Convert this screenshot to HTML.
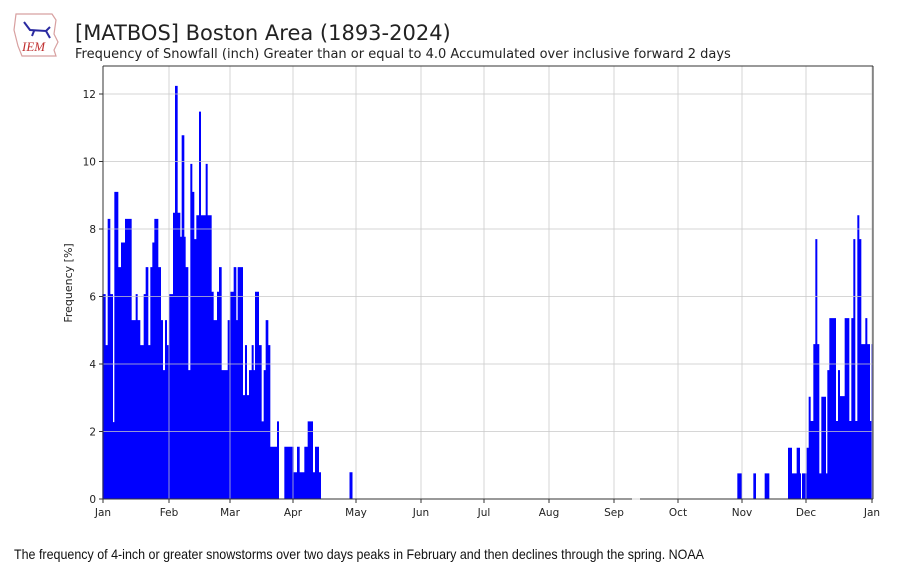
<!DOCTYPE html>
<html><head><meta charset="utf-8"><style>
html,body{margin:0;padding:0;background:#fff;}
svg{display:block;}
</style></head><body>
<svg id="s" width="907" height="576" viewBox="0 0 907 576" xmlns="http://www.w3.org/2000/svg" font-family="'DejaVu Sans','Liberation Sans',sans-serif">
<rect width="907" height="576" fill="#fff"/>
<g>
<path d="M16 14 L52 14 L56 20 L54 34 L58 42 L54 50 L56 56 L22 56 L18 46 L14 30 Z" fill="#fff" stroke="#d8a0a0" stroke-width="1.2"/>
<path d="M24 22 L30 30 L46 31 L50 27 M34 31 L32 36 M46 31 L50 38" stroke="#2a2aa0" stroke-width="2" fill="none"/>
<text x="22" y="51" font-family="'Liberation Serif',serif" font-style="italic" font-size="13" fill="#c03030">IEM</text>
</g>
<text x="75" y="40" font-size="21" fill="#222">[MATBOS] Boston Area (1893-2024)</text>
<text x="75" y="58" font-size="13" fill="#222">Frequency of Snowfall (inch) Greater than or equal to 4.0  Accumulated over inclusive forward 2 days</text>
<path id="bars" fill="#0000ff" stroke="none"/>
<g id="grid" stroke="#c8c8c8" stroke-opacity="0.75" stroke-width="1"></g>
<g id="axes"></g>
<text transform="translate(72,283) rotate(-90)" text-anchor="middle" font-size="11" fill="#222">Frequency [%]</text>
<text x="14" y="559" font-family="'Liberation Sans Narrow','Liberation Sans',sans-serif" font-size="14" fill="#111" textLength="690" lengthAdjust="spacingAndGlyphs">The frequency of 4-inch or greater snowstorms over two days peaks in February and then declines through the spring. NOAA</text>
</svg>
<script>
var NS="http://www.w3.org/2000/svg";
var L=103,R=873,T=66,B=499,U=33.75;
function el(t,a,p){var e=document.createElementNS(NS,t);for(var k in a)e.setAttribute(k,a[k]);p.appendChild(e);return e;}
var g=document.getElementById('grid'),ax=document.getElementById('axes');
var months=[["Jan",103],["Feb",169],["Mar",230],["Apr",293],["May",356],["Jun",421],["Jul",484],["Aug",549],["Sep",614],["Oct",678],["Nov",742],["Dec",806],["Jan",872]];
months.forEach(function(m){el('line',{x1:m[1],x2:m[1],y1:T,y2:B},g);
el('line',{x1:m[1],x2:m[1],y1:B,y2:B+4,stroke:'#333'},ax);
var t=el('text',{x:m[1],y:B+17,'text-anchor':'middle','font-size':'10.5',fill:'#222'},ax);t.textContent=m[0];});
for(var v=0;v<=12;v+=2){var y=B-v*U;el('line',{x1:L,x2:R,y1:y,y2:y},g);
el('line',{x1:L-4,x2:L,y1:y,y2:y,stroke:'#333'},ax);
var t=el('text',{x:L-7,y:y+4,'text-anchor':'end','font-size':'10.5',fill:'#222'},ax);t.textContent=v;}
el('line',{x1:L,x2:L,y1:T,y2:B,stroke:'#333'},ax);
el('line',{x1:R,x2:R,y1:T,y2:B,stroke:'#333'},ax);
el('line',{x1:L,x2:R,y1:T,y2:T,stroke:'#333'},ax);
el('line',{x1:L,x2:632,y1:B,y2:B,stroke:'#333'},ax);
el('line',{x1:640,x2:R,y1:B,y2:B,stroke:'#333'},ax);
var d1=[[22,32,6.07],[32,38,4.56],[38,46,8.3],[46,54,6.07],[54,58,2.28],[58,70,9.1],[70,78,6.87],[78,90,7.6],[90,110,8.3],[110,122,5.3],[122,128,6.07],[128,136,5.3],[136,146,4.56],[146,152,6.07],[152,160,6.87],[160,166,4.56],[166,172,6.87],[172,178,7.6],[178,190,8.3],[190,198,6.87],[198,204,5.3],[204,210,3.82],[210,216,5.3],[216,222,4.56],[222,234,6.07],[234,240,8.48],[240,248,12.24],[248,256,8.48],[256,260,7.77],[260,268,10.78],[268,272,7.77],[272,280,6.87],[280,286,3.82],[286,292,9.93],[292,298,9.1],[298,304,7.7],[304,312,8.41],[312,318,11.48],[318,332,8.41],[332,338,9.93],[338,350,8.41],[350,356,6.14],[356,366,5.3],[366,372,6.14],[372,380,6.87],[380,398,3.82],[398,406,5.3],[406,416,6.14],[416,424,6.87],[424,428,5.3],[428,444,6.87],[444,450,3.08],[450,456,4.56],[456,462,3.08],[462,470,3.82],[470,476,4.56],[476,480,3.82],[480,492,6.14],[492,500,4.56],[500,506,2.3],[506,512,3.82],[512,520,5.3],[520,526,4.56],[526,546,1.55],[546,552,2.3],[568,596,1.55],[596,606,0.79],[606,614,1.55],[614,628,0.79],[628,638,1.55],[638,654,2.3],[654,660,0.79],[660,672,1.55],[672,678,0.79]];
var d2=[[52,66,0.76],[100,108,0.76],[134,148,0.76],[204,216,1.52],[216,230,0.76],[230,240,1.52],[240,243,0.76],[246,260,0.76],[260,266,1.52],[266,272,3.03],[272,280,2.31],[280,286,4.59],[286,292,7.7],[292,298,4.59],[298,304,0.76],[304,318,3.03],[318,322,0.76],[322,328,3.82],[328,348,5.36],[348,354,2.31],[354,360,3.82],[360,374,3.05],[374,388,5.36],[388,394,2.31],[394,400,5.36],[400,406,7.7],[406,412,2.31],[412,418,8.41],[418,424,7.7],[424,436,4.59],[436,442,5.36],[442,450,4.59],[450,454,2.31],[454,458,4.59]];
var p="";
function add(a,b,v){var y=(B-v*U).toFixed(1);p+="M"+a.toFixed(2)+" "+B+"H"+b.toFixed(2)+"V"+y+"H"+a.toFixed(2)+"Z";}
d1.forEach(function(s){add(95+s[0]/3,95+s[1]/3,s[2]);});
add(349.5,352.5,0.79);
d2.forEach(function(s){add(720+s[0]/3,720+s[1]/3,s[2]);});
document.getElementById('bars').setAttribute('d',p);
</script>
</body></html>
